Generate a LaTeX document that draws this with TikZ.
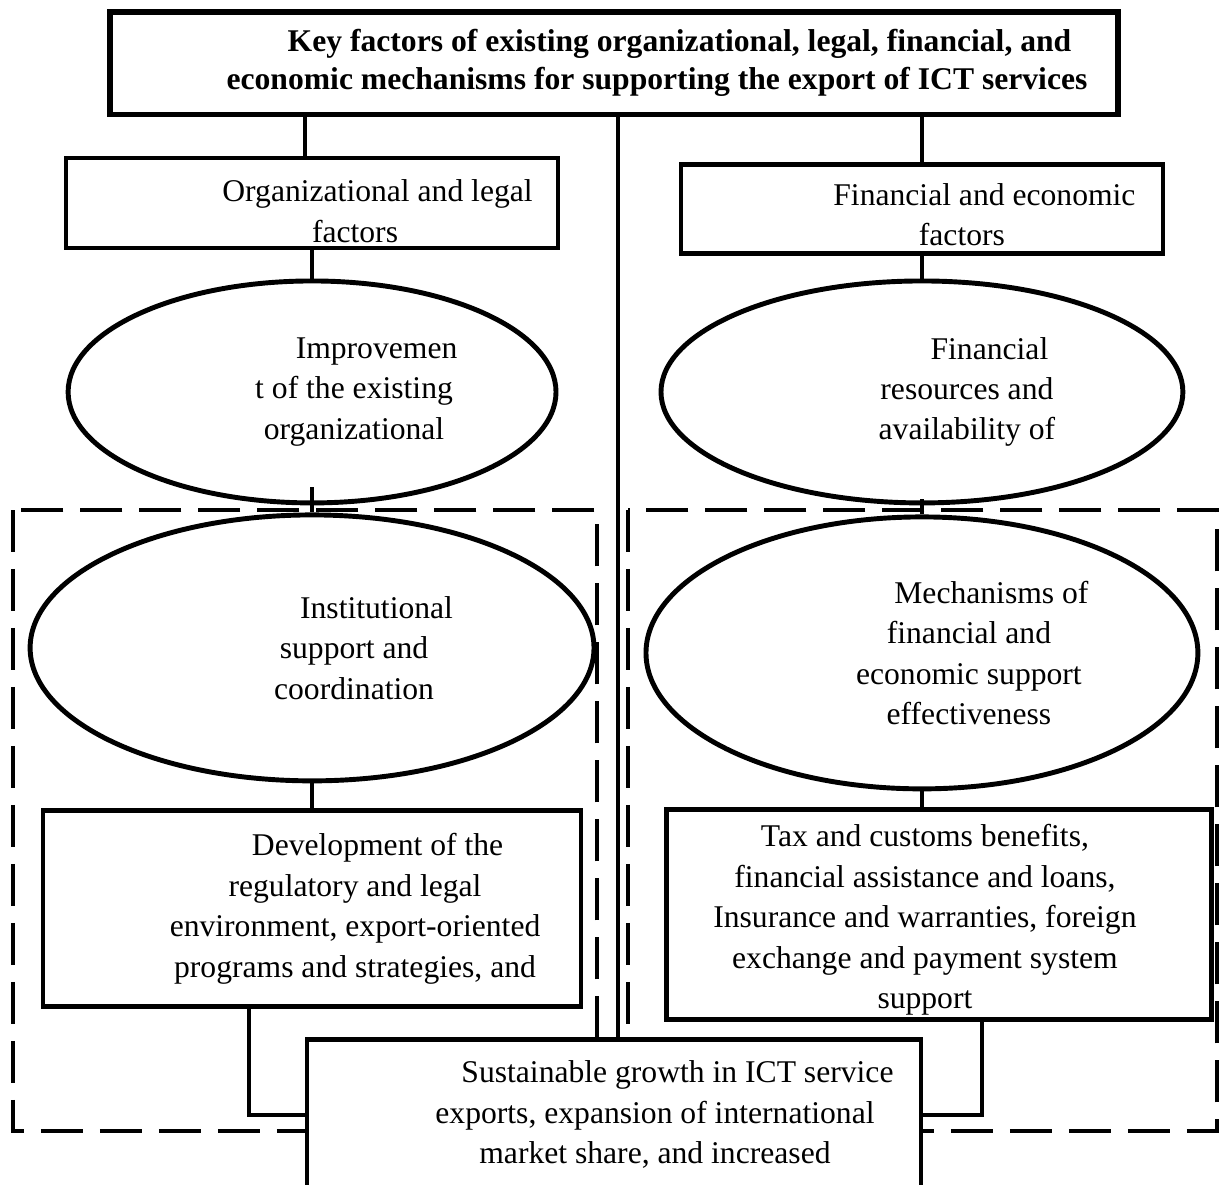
\documentclass[tikz,border=0pt]{standalone}
\usepackage{fontspec}
\setmainfont{Liberation Serif}
\usetikzlibrary{positioning,shapes.geometric}
\newcommand{\ind}{\hspace*{0.9cm}}

\begin{document}
\begin{tikzpicture}[x=0.02cm, y=-0.02cm, on grid,
box/.style ={rectangle, draw, fill=white, line width=2.7pt},
oval/.style ={ellipse, draw, fill=white, line width=2.8pt},
txt/.style ={align=center, inner sep=0pt, font=\fontsize{18}{23}\selectfont},
link/.style ={line width=2.5pt},
group/.style ={draw, line width=2.5pt, dash pattern=on 0.84cm off 0.34cm}]
\useasboundingbox (0,0) rectangle (1221,1184);
\clip (0,0) rectangle (1221,1184);

% dashed groups
\draw[group] (13,510) rectangle (597,1131);
\draw[group] (628,510) rectangle (1217,1131);

\node[box, line width=3.4pt, minimum width=20.16cm, minimum height=2.06cm] (key) at (614,63) {};
\node[box, minimum width=9.84cm, minimum height=1.8cm] (org) [below left=2.8cm and 6.04cm of key] {};
\node[box, minimum width=9.64cm, minimum height=1.78cm] (fin) [below right=2.92cm and 6.16cm of key] {};
\node[oval, minimum width=9.76cm, minimum height=4.44cm] (impr) [below=3.78cm of org] {};
\node[oval, minimum width=10.44cm, minimum height=4.44cm] (fres) [below=3.66cm of fin] {};
\node[oval, minimum width=11.28cm, minimum height=5.32cm] (inst) [below=5.12cm of impr] {};
\node[oval, minimum width=11.04cm, minimum height=5.44cm] (mech) [below=5.22cm of fres] {};
\node[box, minimum width=10.76cm, minimum height=3.92cm] (dev) [below=5.22cm of inst] {};
\node[box, minimum width=10.9cm, minimum height=4.2cm] (tax) [below right=5.24cm and 0.34cm of mech] {};
\node[box, minimum width=12.28cm, minimum height=3cm] (growth) [below=21.04cm of key] {};

% texts
\node[txt, font=\fontsize{18}{22}\selectfont\bfseries] (key-t) at ([xshift=0.86cm]key) {\ind Key factors of existing organizational, legal, financial, and\\economic mechanisms for supporting the export of ICT services};
\node[txt] (org-t) at ([xshift=0.86cm, yshift=-0.16cm]org) {\ind Organizational and legal\\factors};
\node[txt] (fin-t) at ([xshift=0.8cm, yshift=-0.12cm]fin) {\ind Financial and economic\\factors};
\node[txt] (impr-t) at ([xshift=0.84cm]impr) {\ind Improvemen\\t of the existing\\organizational};
\node[txt] (fres-t) at ([xshift=0.9cm]fres) {\ind Financial\\resources and\\availability of};
\node[txt] (inst-t) at ([xshift=0.84cm]inst) {\ind Institutional\\support and\\coordination};
\node[txt] (mech-t) at ([xshift=0.94cm]mech) {\ind Mechanisms of\\financial and\\economic support\\effectiveness};
\node[txt] (dev-t) at ([xshift=0.86cm]dev) {\ind Development of the\\regulatory and legal\\environment, export-oriented\\programs and strategies, and};
\node[txt] (tax-t) at ([xshift=-0.28cm, yshift=-0.1cm]tax) {Tax and customs benefits,\\financial assistance and loans,\\Insurance and warranties, foreign\\exchange and payment system\\support};
\node[txt] (growth-t) at ([xshift=0.82cm]growth) {\ind Sustainable growth in ICT service\\exports, expansion of international\\market share, and increased};

% connectors
\draw[link] ([xshift=-0.14cm]org.north) -- ([xshift=-0.14cm]org.north |- key.south);
\draw[link] ([xshift=0.08cm]growth.north) -- ([xshift=0.08cm]growth.north |- key.south);
\draw[link] (fin.north) -- (fin.north |- key.south);
\draw[link] (org.south) -- (org.south |- impr.north);
\draw[link] (fin.south) -- (fin.south |- fres.north);
\draw[link] ([yshift=0.36cm]impr.south) -- (impr.south |- inst.north);
\draw[link] ([yshift=0.12cm]fres.south) -- (fres.south |- mech.north);
\draw[link] (inst.south) -- (inst.south |- dev.north);
\draw[link] (mech.south) -- (mech.south |- tax.north);
\draw[link] ([xshift=-1.26cm]dev.south) |- (growth.west);
\draw[link] ([xshift=0.86cm]tax.south) |- (growth.east);
\end{tikzpicture}
\end{document}
